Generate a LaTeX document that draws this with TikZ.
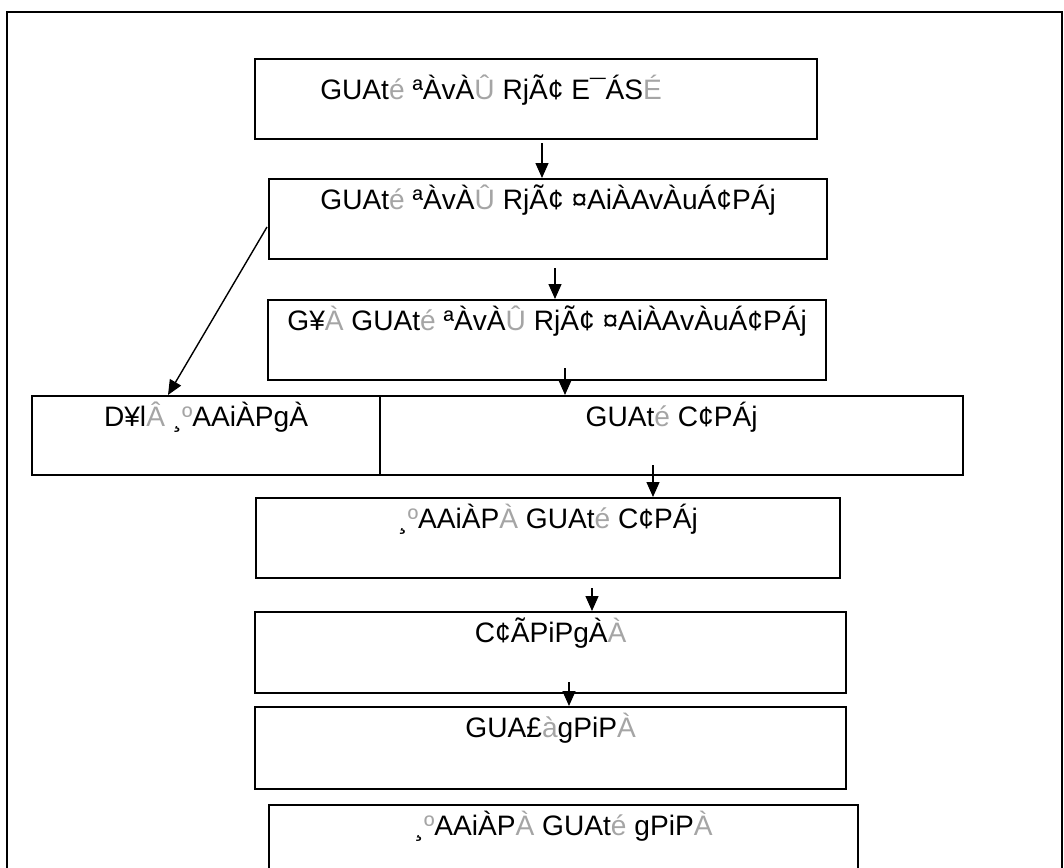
\documentclass[tikz,border=0pt]{standalone}
\usepackage{fontspec}
\setmainfont{Liberation Sans}
\usetikzlibrary{arrows.meta,positioning}
\definecolor{ghostgray}{RGB}{165,165,165}
\newcommand{\gh}[1]{\textcolor{ghostgray}{#1}}

\begin{document}
\begin{tikzpicture}[x=0.025cm, y=-0.025cm,
    box/.style={rectangle, draw, line width=1.5pt, inner sep=0pt, anchor=north west,
        font=\fontsize{20}{22}\selectfont, text height=0.75cm, text depth=1.25cm},
    arrow/.style={-{Triangle[length=0.37cm,width=0.32cm]}, line width=1pt},
    frame/.style={line width=2pt}
]
\useasboundingbox (0,0) rectangle (1064,867);

% Outer frame
\draw[frame] (7,880) -- (7,12) -- (1062,12) -- (1062,880);

% Boxes
\node[box, minimum width=14.05cm, text height=1.0cm, text depth=1.0cm] (dept) at (254,58)
    {GUAt\gh{é} ªÀvÀ\gh{Û} RjÃ¢ E¯ÁS\gh{É}\rule{2.25cm}{0pt}};
\node[box, minimum width=13.95cm] (director) at (268,178)
    {GUAt\gh{é} ªÀvÀ\gh{Û} RjÃ¢ ¤AiÀAvÀuÁ¢PÁj};
\node[box, minimum width=13.95cm] (deputy) at (267,299)
    {G¥\gh{À} GUAt\gh{é} ªÀvÀ\gh{Û} RjÃ¢ ¤AiÀAvÀuÁ¢PÁj};
\node[box, minimum width=8.7cm, text depth=1.225cm] (assist) at (31,395)
    {D¥l\gh{Â} ¸\gh{º}AAiÀPgÀ};
\node[box, minimum width=14.575cm, text depth=1.225cm] (officer) at (379,395)
    {GUAt\gh{é} C¢PÁj};
\node[box, minimum width=14.6cm] (asstofficer) at (255,497)
    {¸\gh{º}AAiÀP\gh{À} GUAt\gh{é} C¢PÁj};
\node[box, minimum width=14.775cm, text depth=1.275cm] (supervisor) at (254,611)
    {C¢ÃPiPgÀ\gh{À}};
\node[box, minimum width=14.775cm, text depth=1.3cm] (guard) at (254,706)
    {GUA£\gh{à}gPiP\gh{À}};
\node[box, minimum width=14.725cm] (asstguard) at (268,804)
    {¸\gh{º}AAiÀP\gh{À} GUAt\gh{é} gPiP\gh{À}};

% Arrow starts
\coordinate (s1) at (542,143);
\coordinate (s2) at (555,268);
\coordinate (s3) at (565,368);
\coordinate (s4) at (653,465);
\coordinate (s5) at (592,588);
\coordinate (s6) at (569,682);
\coordinate (d1) at (267,227);
\coordinate (d2) at (168,395);

% Arrows
\draw[arrow] (s1) -- (s1 |- director.north);
\draw[arrow] (s2) -- (s2 |- deputy.north);
\draw[arrow] (s3) -- (s3 |- officer.north);
\draw[arrow] (s4) -- (s4 |- asstofficer.north);
\draw[arrow] (s5) -- (s5 |- supervisor.north);
\draw[arrow] (s6) -- (s6 |- guard.north);
\draw[arrow] (d1) -- (d2);

\end{tikzpicture}
\end{document}
